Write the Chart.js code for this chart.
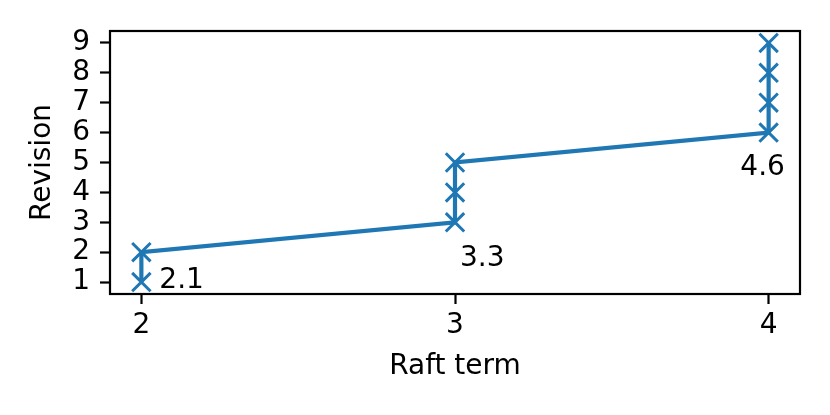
<!DOCTYPE html>
<html>
<head>
    <title>Raft term vs revision</title>
    <script src="https://cdn.jsdelivr.net/npm/chart.js"></script>
    <style>
        body { margin: 0; background: #fff; }
    </style>
</head>
<body>
    <canvas id="raft-chart" width="830" height="415"></canvas>

    <script>
        const raftTerm = [2, 2, 3, 3, 3, 4, 4, 4, 4];
        const revision = [1, 2, 3, 4, 5, 6, 7, 8, 9];
        const xTicks = [2, 3, 4];
        const yTicks = [1, 2, 3, 4, 5, 6, 7, 8, 9];
        const noteText = ['2.1', '3.3', '4.6'];
        const notePoint = [0, 2, 5];

        const FONT = { family: 'DejaVu Sans', size: 28 };
        const BLUE = '#1f77b4';

        // text offsets per note (px): dx, dy, align
        const noteStyle = [
            { dx: 18, dy: 6, align: 'left' },
            { dx: 5, dy: 44, align: 'left' },
            { dx: -6, dy: 42, align: 'center' }
        ];

        const notesPlugin = {
            id: 'notes',
            afterDatasetsDraw(chart) {
                const ctx = chart.ctx;
                const xs = chart.scales.x, ys = chart.scales.y;
                ctx.save();
                ctx.font = FONT.size + 'px ' + FONT.family;
                ctx.fillStyle = '#000';
                ctx.textBaseline = 'alphabetic';
                noteText.forEach((t, i) => {
                    const k = notePoint[i];
                    const s = noteStyle[i];
                    ctx.textAlign = s.align;
                    ctx.fillText(t, xs.getPixelForValue(raftTerm[k]) + s.dx, ys.getPixelForValue(revision[k]) + s.dy);
                });
                ctx.restore();
            }
        };

        const framePlugin = {
            id: 'frame',
            afterDraw(chart) {
                const a = chart.chartArea;
                const ctx = chart.ctx;
                ctx.save();
                ctx.strokeStyle = '#000';
                ctx.lineWidth = 2.2;
                ctx.strokeRect(a.left, a.top, a.right - a.left, a.bottom - a.top);
                ctx.restore();
            }
        };

        const ctx = document.getElementById('raft-chart').getContext('2d');
        new Chart(ctx, {
            type: 'line',
            data: {
                datasets: [{
                    data: raftTerm.map((x, i) => ({ x: x, y: revision[i] })),
                    borderColor: BLUE,
                    backgroundColor: BLUE,
                    borderWidth: 4.2,
                    pointStyle: 'crossRot',
                    pointRadius: 13,
                    pointHoverRadius: 13,
                    pointBorderWidth: 3,
                    pointBorderColor: BLUE,
                    tension: 0,
                    fill: false
                }]
            },
            options: {
                responsive: false,
                animation: false,
                events: [],
                layout: { padding: { top: 31, right: 30, left: 0, bottom: 0 } },
                plugins: {
                    legend: { display: false },
                    tooltip: { enabled: false }
                },
                scales: {
                    x: {
                        type: 'linear',
                        min: 1.9,
                        max: 4.1,
                        afterBuildTicks: s => { s.ticks = xTicks.map(v => ({ value: v })); },
                        afterFit: s => { s.height = 121; },
                        border: { display: false },
                        grid: { drawOnChartArea: false, tickLength: 10, tickWidth: 2.2, tickColor: '#000' },
                        ticks: { color: '#000', font: FONT, padding: 5, maxRotation: 0, autoSkip: false },
                        title: { display: true, text: 'Raft term', color: '#000', font: FONT, padding: { top: 0, bottom: 31 } }
                    },
                    y: {
                        type: 'linear',
                        min: 0.6,
                        max: 9.4,
                        afterBuildTicks: s => { s.ticks = yTicks.map(v => ({ value: v })); },
                        afterFit: s => { s.width = 110; },
                        border: { display: false },
                        grid: { drawOnChartArea: false, tickLength: 10, tickWidth: 2.2, tickColor: '#000' },
                        ticks: { color: '#000', font: FONT, padding: 10, autoSkip: false },
                        title: { display: true, text: 'Revision', color: '#000', font: FONT, padding: { top: 26, bottom: 0 } }
                    }
                }
            },
            plugins: [notesPlugin, framePlugin]
        });
    </script>
</body>
</html>
